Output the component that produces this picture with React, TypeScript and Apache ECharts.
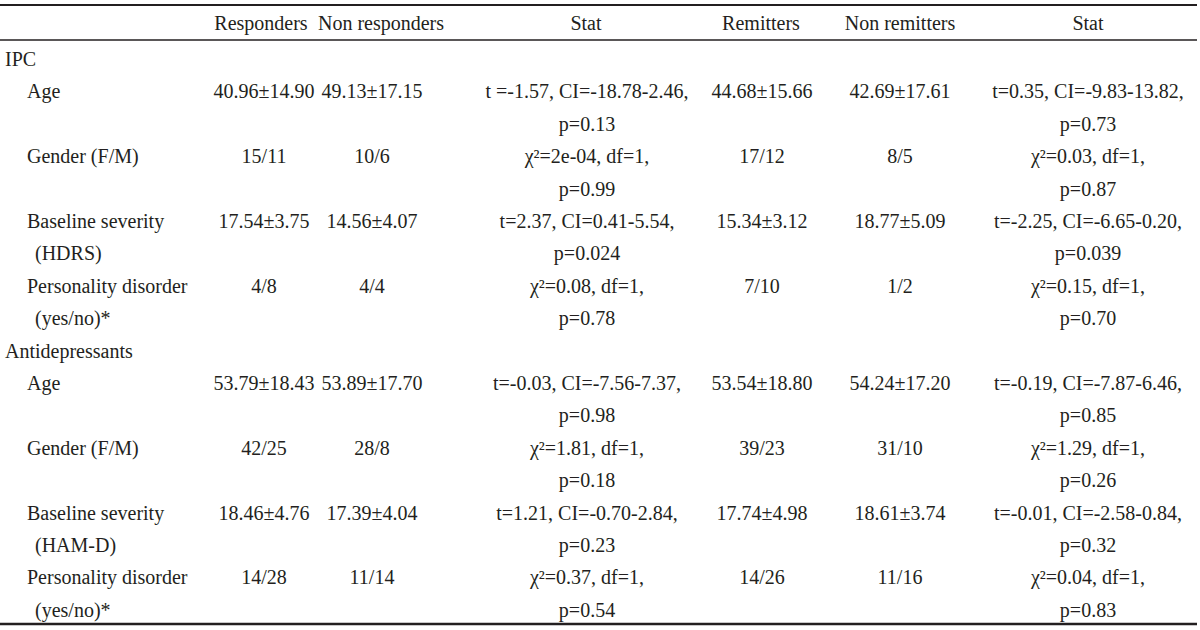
import React, { useEffect, useRef } from "react";
import * as echarts from "echarts";

const headers = ["Responders", "Non responders", "Stat", "Remitters", "Non remitters", "Stat"];
const groups = ["IPC", "Antidepressants"];
const ipcLabels = [["Age"], ["Gender (F/M)"], ["Baseline severity", "(HDRS)"], ["Personality disorder", "(yes/no)*"]];
const adLabels = [["Age"], ["Gender (F/M)"], ["Baseline severity", "(HAM-D)"], ["Personality disorder", "(yes/no)*"]];

const ipcResponders = ["40.96±14.90", "15/11", "17.54±3.75", "4/8"];
const ipcNonResponders = ["49.13±17.15", "10/6", "14.56±4.07", "4/4"];
const ipcStatResp = [
  ["t =-1.57, CI=-18.78-2.46,", "p=0.13"],
  ["χ²=2e-04, df=1,", "p=0.99"],
  ["t=2.37, CI=0.41-5.54,", "p=0.024"],
  ["χ²=0.08, df=1,", "p=0.78"],
];
const ipcRemitters = ["44.68±15.66", "17/12", "15.34±3.12", "7/10"];
const ipcNonRemitters = ["42.69±17.61", "8/5", "18.77±5.09", "1/2"];
const ipcStatRem = [
  ["t=0.35, CI=-9.83-13.82,", "p=0.73"],
  ["χ²=0.03, df=1,", "p=0.87"],
  ["t=-2.25, CI=-6.65-0.20,", "p=0.039"],
  ["χ²=0.15, df=1,", "p=0.70"],
];

const adResponders = ["53.79±18.43", "42/25", "18.46±4.76", "14/28"];
const adNonResponders = ["53.89±17.70", "28/8", "17.39±4.04", "11/14"];
const adStatResp = [
  ["t=-0.03, CI=-7.56-7.37,", "p=0.98"],
  ["χ²=1.81, df=1,", "p=0.18"],
  ["t=1.21, CI=-0.70-2.84,", "p=0.23"],
  ["χ²=0.37, df=1,", "p=0.54"],
];
const adRemitters = ["53.54±18.80", "39/23", "17.74±4.98", "14/26"];
const adNonRemitters = ["54.24±17.20", "31/10", "18.61±3.74", "11/16"];
const adStatRem = [
  ["t=-0.19, CI=-7.87-6.46,", "p=0.85"],
  ["χ²=1.29, df=1,", "p=0.26"],
  ["t=-0.01, CI=-2.58-0.84,", "p=0.32"],
  ["χ²=0.04, df=1,", "p=0.83"],
];

const FONT = '20px "Liberation Serif", "Times New Roman", serif';
const INK = "#231f20";
const headerX = [261, 381, 586, 761, 900, 1088];
const dataX = [264, 372, 587, 762, 900, 1088];
const firstLineY = 59;
const lineStep = 32.4;

function txt(text: string, x: number, y: number, align: string) {
  return {
    type: "text",
    silent: true,
    style: {
      text,
      x,
      y,
      font: FONT,
      fill: INK,
      align,
      textAlign: align,
      verticalAlign: "middle",
      textVerticalAlign: "middle",
    },
  };
}

function hline(y: number, w: number) {
  return {
    type: "line",
    silent: true,
    shape: { x1: 0, y1: y, x2: 1197, y2: y },
    style: { stroke: INK, lineWidth: w },
  };
}

function buildElements() {
  const els: any[] = [];
  els.push(hline(5, 2));
  els.push(hline(40, 1.6));
  els.push(hline(624, 2.6));
  headers.forEach((h, i) => els.push(txt(h, headerX[i], 23, "center")));

  const blocks = [
    { name: groups[0], labels: ipcLabels, cols: [ipcResponders, ipcNonResponders, ipcStatResp, ipcRemitters, ipcNonRemitters, ipcStatRem] },
    { name: groups[1], labels: adLabels, cols: [adResponders, adNonResponders, adStatResp, adRemitters, adNonRemitters, adStatRem] },
  ];
  let k = 0;
  const yOf = (n: number) => firstLineY + n * lineStep;
  blocks.forEach((b) => {
    els.push(txt(b.name, 5, yOf(k), "left"));
    k += 1;
    b.labels.forEach((lab, r) => {
      els.push(txt(lab[0], 27, yOf(k), "left"));
      if (lab[1]) els.push(txt(lab[1], 35, yOf(k + 1), "left"));
      b.cols.forEach((col: any, c) => {
        const v = col[r];
        if (Array.isArray(v)) {
          els.push(txt(v[0], dataX[c], yOf(k), "center"));
          els.push(txt(v[1], dataX[c], yOf(k + 1), "center"));
        } else {
          els.push(txt(v, dataX[c], yOf(k), "center"));
        }
      });
      k += 2;
    });
  });
  return els;
}

export default function App() {
  const ref = useRef<HTMLDivElement>(null);
  useEffect(() => {
    if (!ref.current) return;
    const chart = echarts.init(ref.current, null, { renderer: "svg" });
    chart.setOption({
      animation: false,
      backgroundColor: "#ffffff",
      graphic: { elements: buildElements() },
    });
    return () => chart.dispose();
  }, []);
  return (
    <div
      ref={ref}
      style={{ position: "absolute", left: 0, top: 0, width: 1200, height: 630, background: "#fff" }}
    />
  );
}
